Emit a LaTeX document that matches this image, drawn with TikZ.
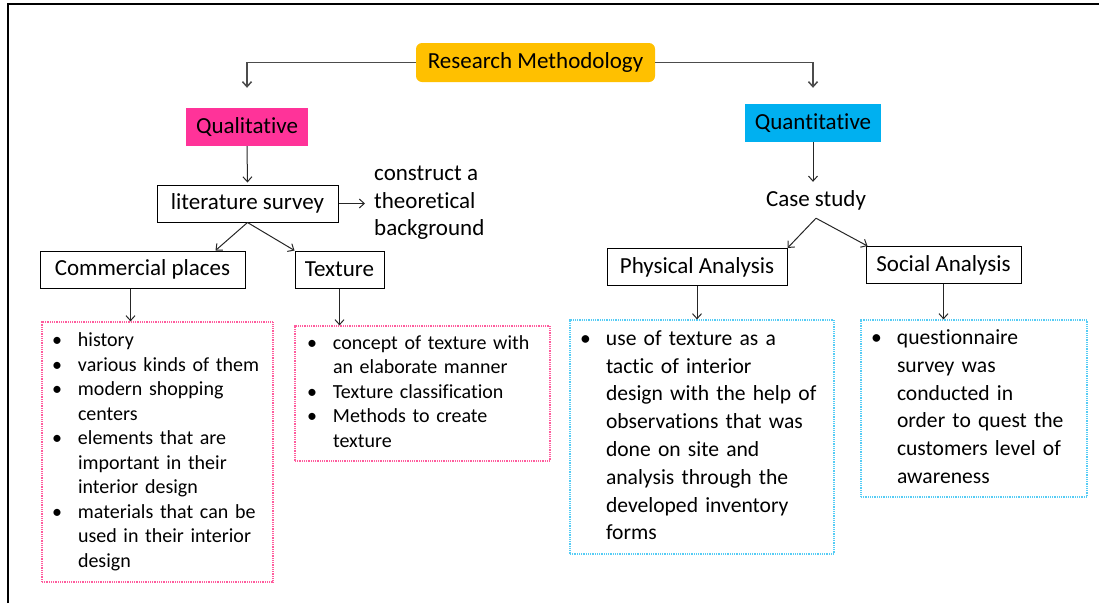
\documentclass[tikz,border=0pt]{standalone}
\usepackage{fontspec}
\setmainfont{Carlito}[Ligatures = NoCommon]
\usepackage{xcolor}
\usetikzlibrary{positioning, arrows.meta}

\definecolor{rootgold}{HTML}{FFC000}
\definecolor{qualpink}{HTML}{FF3399}
\definecolor{quantblue}{HTML}{00B0F0}
\definecolor{pinkdot}{HTML}{FF5C9D}
\definecolor{bluedot}{HTML}{55CCF5}

\newcommand{\listfont}{\fontsize{20}{24.5}\selectfont}
\newcommand{\widefont}{\fontsize{21.6}{27.8}\selectfont}
\newcommand{\bul}{\makebox[26pt][l]{\textbullet}}

\begin{document}
\begin{tikzpicture}[
        x = 1pt, y = -1pt,
        >={Straight Barb[length=5pt, width=9pt]},
        every node/.style = {
            align = center,
            inner sep = 0pt,
            font = \fontsize{23}{27.6}\selectfont
        },
        box/.style = {
            draw,
            line width = 1pt,
            minimum height = 37pt
        },
        root/.style = {
            fill = rootgold,
            rounded corners = 6pt,
            minimum width = 239pt,
            minimum height = 39pt
        },
        tag/.style = {
            minimum height = 38pt
        },
        leaf/.style = {
            dash pattern = on 1pt off 0.8pt,
            line width = 1.2pt,
            align = left,
            inner xsep = 10pt
        },
        link/.style = {
            ->,
            line width = 1pt,
            black!85
        }
    ]
        \useasboundingbox (0,0) rectangle (1099,603);
        % frame
        \draw[line width = 2pt] (8.3,603) -- (8.3,3.5) -- (1099,3.5);

        \node[root] (rm) at (535.5,62.5) {Research Methodology};

        % qualitative side
        \node[tag, fill = qualpink, minimum width = 122pt] (qual) at (247,127) {Qualitative};
        \node[box, minimum width = 181pt] (lit) at (247.5,203.5) {literature survey};
        \node[anchor = west, align = left, inner xsep = 9pt] (theory) at (365,203) {
            construct a \\ theoretical \\ background
        };
        \node[box, minimum width = 205pt] (comm) at (142.5,269.5) {Commercial places};
        \node[box, minimum width = 89pt] (tex) at (339.5,269.5) {Texture};

        \node[leaf, draw = pinkdot, text width = 211pt, minimum height = 260pt,
              font = \listfont] (commlist) at (157.5,452) {
            \begin{tabular}{@{}l@{}l@{}}
                \bul & history \\
                \bul & various kinds of them \\
                \bul & modern shopping \\
                     & centers \\
                \bul & elements that are \\
                     & important in their \\
                     & interior design \\
                \bul & materials that can be \\
                     & used in their interior \\
                     & design
            \end{tabular}
        };
        \node[leaf, draw = pinkdot, inner xsep = 12pt, text width = 231pt,
              minimum height = 135pt, font = \listfont] (texlist) at (422.5,393.5) {
            \begin{tabular}{@{}l@{}l@{}}
                \bul & concept of texture with \\
                     & an elaborate manner \\
                \bul & Texture classification \\
                \bul & Methods to create \\
                     & texture
            \end{tabular}
        };

        % quantitative side
        \node[tag, fill = quantblue, minimum width = 136pt] (quant) at (813,123) {Quantitative};
        \node[minimum height = 36pt] (case) at (816,200) {Case study};
        \node[box, minimum width = 180pt] (phys) at (697,267) {Physical Analysis};
        \node[box, minimum width = 155pt] (soc) at (943.5,265) {Social Analysis};

        \node[leaf, draw = bluedot, text width = 244pt, minimum height = 234pt,
              font = \widefont] (physlist) at (702,437) {
            \begin{tabular}{@{}l@{}l@{}}
                \bul & use of texture as a \\
                     & tactic of interior \\
                     & design with the help of \\
                     & observations that was \\
                     & done on site and \\
                     & analysis through the \\
                     & developed inventory \\
                     & forms
            \end{tabular}
        };
        \node[leaf, draw = bluedot, text width = 206pt, minimum height = 177pt,
              font = \widefont] (soclist) at (974,408.5) {
            \begin{tabular}{@{}l@{}l@{}}
                \bul & questionnaire \\
                     & survey was \\
                     & conducted in \\
                     & order to quest the \\
                     & customers level of \\
                     & awareness
            \end{tabular}
        };

        % connectors
        \draw[link, line width = 1.5pt, black!70] (rm.west) -| ([yshift = 20pt]qual.north);
        \draw[link, line width = 1.5pt, black!70] (rm.east) -| ([yshift = 16pt]quant.north);
        \draw[link] (qual.south) -- ([yshift = 2pt]lit.north);
        \draw[link] (lit.east) -- (lit.east -| theory.west);
        \draw[link] (lit.south) -- ([xshift = -30pt]comm.north east);
        \draw[link] (lit.south) -- (tex.north west);
        \draw[link] ([xshift = -12pt]comm.south) -- ([xshift = -12pt]comm.south |- commlist.north);
        \draw[link] (tex.south) -- (tex.south |- texlist.north);
        \draw[link] (quant.south) -- (quant.south |- case.north);
        \draw[link] (case.south) -- (phys.north east);
        \draw[link] (case.south) -- ([xshift = 2pt]soc.north west);
        \draw[link] (phys.south) -- (phys.south |- physlist.north);
        \draw[link] (soc.south) -- (soc.south |- soclist.north);
\end{tikzpicture}
\end{document}
